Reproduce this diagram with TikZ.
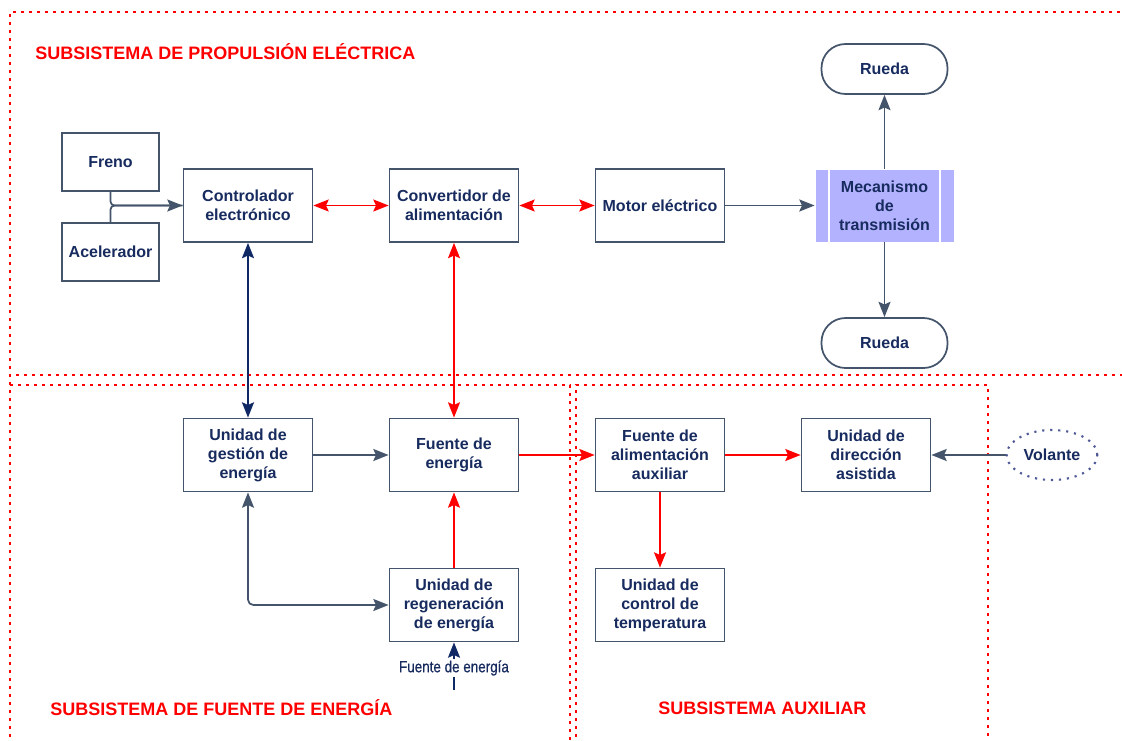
\documentclass[tikz,border=0pt]{standalone}
\usepackage{fontspec}
\setmainfont{Liberation Sans}
\newfontfamily\narrowfont[FakeStretch=0.84,FakeBold=0.6]{Liberation Sans}
\usetikzlibrary{arrows.meta,shapes.geometric}

\definecolor{navytext}{RGB}{23,43,95}
\definecolor{boxline}{RGB}{68,84,106}
\definecolor{navyline}{RGB}{16,40,100}
\definecolor{lavender}{RGB}{178,178,255}
\definecolor{dotblue}{RGB}{80,90,150}
\definecolor{zonered}{RGB}{255,0,0}

\begin{document}
\begin{tikzpicture}[x=0.75pt,y=-0.75pt,
  tip/.style={-{Stealth[length=11.5pt,width=9pt,inset=2pt]}},
  tips/.style={{Stealth[length=11.5pt,width=9pt,inset=2pt]}-{Stealth[length=11.5pt,width=9pt,inset=2pt]}},
  link/.style={draw=boxline,line width=1.3pt},
  navylink/.style={draw=navyline,line width=1.3pt},
  redlink/.style={draw=red,line width=1.1pt},
  stepbox/.style={draw=boxline,line width=1.3pt,fill=white,minimum width=96.75pt,
    minimum height=54.75pt,align=center,inner sep=0pt,text=navytext,
    font=\fontsize{12pt}{14.25pt}\selectfont\bfseries},
  smallbox/.style={stepbox,minimum width=72.75pt,minimum height=43.5pt},
  mecbox/.style={stepbox,draw=none,fill=lavender,minimum width=103.5pt,minimum height=54pt},
  wheel/.style={stepbox,rounded corners=18pt,minimum width=94.5pt,minimum height=37.5pt},
  wheelinput/.style={ellipse,draw=dotblue,line width=1.6pt,dash pattern=on 1.6pt off 4.4pt,
    minimum width=68pt,minimum height=37.5pt,inner sep=0pt,text=navytext,
    font=\fontsize{12pt}{14.25pt}\selectfont\bfseries},
  zone/.style={draw=zonered,line width=2pt,dash pattern=on 2pt off 4pt},
  zonetitle/.style={anchor=west,text=zonered,inner sep=0pt,
    font=\fontsize{13.5pt}{16pt}\selectfont\bfseries}
]
\useasboundingbox (0,0) rectangle (1122,740);

% subsystem frames
\draw[zone] (10,745) -- (10,12) -- (1125,12);
\draw[zone] (16,375) -- (1125,375);
\draw[zone] (10,385) -- (570,385) -- (570,745);
\draw[zone] (576,745) -- (576,385) -- (988,385) -- (988,745);

% frame titles
\node[zonetitle] (t1) at (35,52) {SUBSISTEMA DE PROPULSIÓN ELÉCTRICA};
\node[zonetitle] (t2) at (50,708) {SUBSISTEMA DE FUENTE DE ENERGÍA};
\node[zonetitle] (t3) at (658,708) {SUBSISTEMA AUXILIAR};

% propulsion chain
\node[smallbox] (freno) at (110.5,162) {Freno};
\node[smallbox] (acel) at (110.5,252) {Acelerador};
\node[stepbox] (ctrl) at (248,205.5) {Controlador\\electrónico};
\node[stepbox] (conv) at (454,205.5) {Convertidor de\\alimentación};
\node[stepbox] (motor) at (660,205.5) {Motor eléctrico};
\node[mecbox] (mec) at (884.5,205.5) {Mecanismo\\de\\transmisión};
\draw[white,line width=1.5pt] (829,169) -- (829,242) (940,169) -- (940,242);
\node[wheel] (rtop) at (884.5,69) {Rueda};
\node[wheel] (rbot) at (884.5,343) {Rueda};

% energy source
\node[stepbox] (gest) at (248,455) {Unidad de\\gestión de\\energía};
\node[stepbox] (fuente) at (454,455) {Fuente de\\energía};
\node[stepbox] (regen) at (454,605) {Unidad de\\regeneración\\de energía};
\node[text=navytext,inner sep=1pt,font=\narrowfont\fontsize{12pt}{13pt}\selectfont] (flabel) at (454,668) {Fuente de energía};
\coordinate (fsrc) at (454,690);

% auxiliary
\node[stepbox] (aux) at (660,455) {Fuente de\\alimentación\\auxiliar};
\node[stepbox] (dir) at (866,455) {Unidad de\\dirección\\asistida};
\node[stepbox] (temp) at (660,605) {Unidad de\\control de\\temperatura};
\node[wheelinput] (vol) at (1052,455) {Volante};

% connectors
\draw[link,tip,rounded corners=3pt] (freno.south) |- (ctrl.west);
\draw[link,rounded corners=3pt] (acel.north) |- (ctrl.west);
\draw[redlink,tips] (ctrl.east) -- (conv.west);
\draw[redlink,tips] (conv.east) -- (motor.west);
\draw[link,tip] (motor.east) -- (mec.west);
\draw[link,tip] (mec.north) -- (rtop.south);
\draw[link,tip] (mec.south) -- (rbot.north);

\draw[navylink,tips] (ctrl.south) -- (gest.north);
\draw[redlink,tips] (conv.south) -- (fuente.north);
\draw[link,tip] (gest.east) -- (fuente.west);
\draw[link,tips,rounded corners=4pt] (gest.south) |- (regen.west);
\draw[redlink,tip] (regen.north) -- (fuente.south);
\draw[navylink,tip] (flabel.north) -- (regen.south);
\draw[navylink] (fsrc) -- (flabel.south);

\draw[redlink,tip] (fuente.east) -- (aux.west);
\draw[redlink,tip] (aux.east) -- (dir.west);
\draw[redlink,tip] (aux.south) -- (temp.north);
\draw[link,tip] (vol.west) -- (dir.east);
\end{tikzpicture}
\end{document}
